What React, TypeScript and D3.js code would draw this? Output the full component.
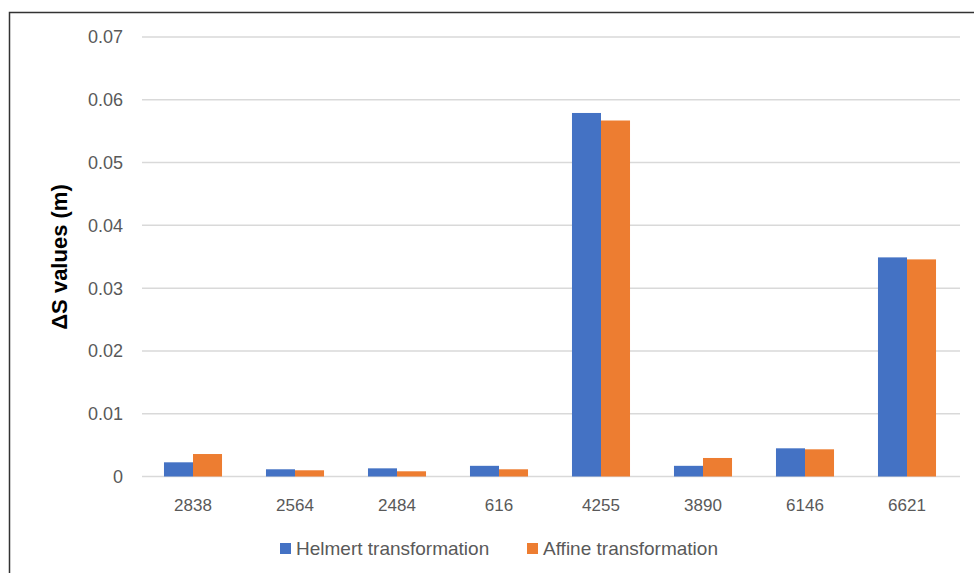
import React from "react";
import * as d3 from "d3";

const categories = ["2838", "2564", "2484", "616", "4255", "3890", "6146", "6621"];
const helmert = [0.00226, 0.00115, 0.0013, 0.0017, 0.0579, 0.0017, 0.00449, 0.0349];
const affine = [0.00358, 0.00099, 0.00083, 0.00115, 0.0567, 0.00295, 0.00433, 0.03458];
const yTicks = [0, 0.01, 0.02, 0.03, 0.04, 0.05, 0.06, 0.07];
const seriesNames = ["Helmert transformation", "Affine transformation"];
const colors = ["#4472C4", "#ED7D31"];

const W = 974;
const H = 573;
const font = "'Liberation Sans', Arial, sans-serif";

export default function App() {
  const x = d3
    .scaleBand<string>()
    .domain(categories)
    .range([142, 958])
    .paddingInner(0.431)
    .paddingOuter(0.2155);
  const sub = d3.scaleBand<number>().domain([0, 1]).range([0, x.bandwidth()]);
  const y = d3.scaleLinear().domain([0, 0.07]).range([476.5, 37]);
  const series = [helmert, affine];

  return (
    <svg
      width={W}
      height={H}
      style={{ position: "absolute", left: 0, top: 0, background: "#fff" }}
    >
      <rect x={0} y={0} width={W} height={H} fill="#fff" />
      <rect x={9.5} y={12.5} width={W + 10} height={H + 10} fill="none" stroke="#333" strokeWidth={1.5} />
      {yTicks.map((t) => (
        <g key={t}>
          <line x1={142} x2={960} y1={y(t)} y2={y(t)} stroke="#D9D9D9" strokeWidth={1.5} />
          <text
            x={123}
            y={y(t)}
            dy="0.36em"
            textAnchor="end"
            fontFamily={font}
            fontSize={18}
            fill="#595959"
          >
            {t === 0 ? "0" : d3.format(".2f")(t)}
          </text>
        </g>
      ))}
      {series.map((vals, si) =>
        vals.map((v, i) => (
          <rect
            key={`${si}-${i}`}
            x={(x(categories[i]) as number) + (sub(si) as number)}
            y={y(v)}
            width={sub.bandwidth()}
            height={y(0) - y(v)}
            fill={colors[si]}
          />
        ))
      )}
      {categories.map((c) => (
        <text
          key={c}
          x={(x(c) as number) + x.bandwidth() / 2}
          y={511}
          textAnchor="middle"
          fontFamily={font}
          fontSize={17}
          fill="#595959"
        >
          {c}
        </text>
      ))}
      <text
        transform={`translate(67,${257}) rotate(-90)`}
        textAnchor="middle"
        fontFamily={font}
        fontSize={22}
        fontWeight="bold"
        fill="#000"
      >
        ΔS values (m)
      </text>
      {seriesNames.map((n, i) => {
        const lx = [280, 527][i];
        return (
          <g key={n}>
            <rect x={lx} y={543} width={11} height={11} fill={colors[i]} />
            <text x={lx + 16} y={555} fontFamily={font} fontSize={19} fill="#595959">
              {n}
            </text>
          </g>
        );
      })}
    </svg>
  );
}
